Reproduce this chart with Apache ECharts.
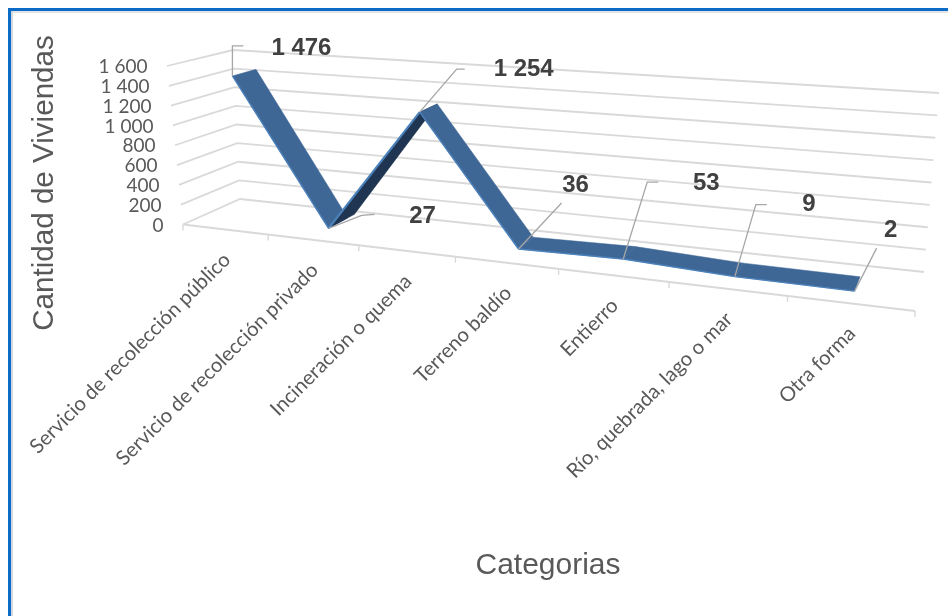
<!DOCTYPE html>
<html>
<head>
<meta charset="utf-8">
<style>html,body{margin:0;padding:0;background:#fff}#c{width:948px;height:616px}</style>
<script src="https://cdn.jsdelivr.net/npm/echarts@6/dist/echarts.min.js"></script>
</head>
<body>
<div id="c"></div>
<script>
var categories = ['Servicio de recolección público','Servicio de recolección privado','Incineración o quema','Terreno baldío','Entierro','Río, quebrada, lago o mar','Otra forma'];
var values = [1476, 27, 1254, 36, 53, 9, 2];
var valueLabels = ['1 476','27','1 254','36','53','9','2'];
var yTicks = [0,200,400,600,800,1000,1200,1400,1600];
var yTickLabels = ['0','200','400','600','800','1 000','1 200','1 400','1 600'];

// Projection of the flat grid (t along categories, v up) plus a depth d on to the tilted 3-D box
function homography(p0,p1,p2,p3){
  var dx1=p1[0]-p2[0],dy1=p1[1]-p2[1],dx2=p3[0]-p2[0],dy2=p3[1]-p2[1];
  var sx=p0[0]-p1[0]+p2[0]-p3[0],sy=p0[1]-p1[1]+p2[1]-p3[1];
  var den=dx1*dy2-dx2*dy1;
  var g=(sx*dy2-dx2*sy)/den,h=(dx1*sy-sx*dy1)/den;
  var a=p1[0]-p0[0]+g*p1[0],b=p3[0]-p0[0]+h*p3[0],d=p1[1]-p0[1]+g*p1[1],e=p3[1]-p0[1]+h*p3[1];
  return function(t,u){var w=1+g*t+h*u;return [(p0[0]+a*t+b*u)/w,(p0[1]+d*t+e*u)/w];};
}
var floorH = homography([183,224.5],[915,311],[924,272],[240,199]);
function box(t,d,v){
  var f=floorH(t,d), s=(f[0]-183)/732, sb=(s-0.078)/0.934;
  var dxF=-16+s*46, hF=158.5+s*31.5, dxB=-7+sb*22, hB=149+sb*30;
  var dx=dxF+d*(dxB-dxF), h=hF+d*(hB-hF);
  return [f[0]+v*dx, f[1]-v*h];
}
var D0=0.3, D1=0.68, D_UNDER=0.82;

function normalise(params,api,i,val){
  var cs=params.coordSys, c=api.coord([i,val]);
  return [(c[0]-cs.x)/cs.width,(cs.y+cs.height-c[1])/cs.height];
}
var AXIS='#D9D9D9', GRAY='#A6A6A6', TXT='#595959', LBL='#404040';

function renderFrame(params,api){
  var cs=params.coordSys, ch=[];
  yTicks.forEach(function(tv,k){
    var v=(cs.y+cs.height-api.coord([0,tv])[1])/cs.height;
    var a=box(0,0,v),b=box(0,1,v),c=box(1,1,v);
    ch.push({type:'polyline',silent:true,shape:{points:[a,b,c]},style:{fill:null,stroke:AXIS,lineWidth:1.8}});
    ch.push({type:'text',silent:true,x:a[0]-19.5,y:a[1]+1,style:{text:yTickLabels[k],align:'right',verticalAlign:'middle',fontFamily:'Lato',fontSize:19,fill:TXT}});
  });
  var e0=box(0,0,0),e1=box(1,0,0);
  ch.push({type:'line',silent:true,shape:{x1:e0[0],y1:e0[1],x2:e1[0],y2:e1[1]},style:{stroke:AXIS,lineWidth:1.8}});
  for(var k=0;k<=values.length;k++){
    var p=box(k/values.length,0,0);
    ch.push({type:'line',silent:true,shape:{x1:p[0],y1:p[1],x2:p[0],y2:p[1]+6},style:{stroke:AXIS,lineWidth:1.4}});
  }
  categories.forEach(function(name,i){
    var n=normalise(params,api,i,0), p=box(n[0],0,0);
    ch.push({type:'text',silent:true,x:p[0]+2,y:p[1]+27,rotation:Math.PI/4,
      style:{text:name,align:'right',verticalAlign:'middle',fontFamily:'Lato',fontSize:20.3,fill:TXT}});
  });
  return {type:'group',children:ch};
}

function renderRibbon(params,api){
  var ch=[];
  for(var i=0;i<values.length-1;i++){
    var a=normalise(params,api,i,values[i]), b=normalise(params,api,i+1,values[i+1]);
    var rising=values[i+1]>values[i]*3;
    var af=box(a[0],D0,a[1]),ab=box(a[0],rising?D_UNDER:D1,a[1]),bf=box(b[0],D0,b[1]),bb=box(b[0],D1,b[1]);
    ch.push({type:'polygon',silent:true,shape:{points:[af,bf,bb,ab]},
      style:{fill:rising?'#1F3551':'#3F6796',stroke:rising?'#1F3551':'#3F6796',lineWidth:0.5}});
    ch.push({type:'line',silent:true,shape:{x1:af[0],y1:af[1],x2:bf[0],y2:bf[1]},
      style:{stroke:'#4C82BC',lineWidth:rising?2.2:1.4}});
  }
  return {type:'group',children:ch};
}

// leader offsets in screen pixels from each point's front edge: elbow(s), then label centre
var leaderOffsets=[[[0,-30],[11,-30]],[[33,-13],[46,-14]],[[37,-43],[45,-43]],[[43,-46]],[[24,-77],[35,-77]],[[21,-72],[32,-72]],[[22,-43]]];
var labelOffsets=[[69,-28],[94,-12],[104,-43],[57,-64],[83,-76],[74,-72],[36,-61]];

function renderLabels(params,api){
  var ch=[];
  values.forEach(function(val,i){
    var n=normalise(params,api,i,val), p=box(n[0],D0,n[1]);
    var pts=[p].concat(leaderOffsets[i].map(function(o){return [p[0]+o[0],p[1]+o[1]];}));
    ch.push({type:'polyline',silent:true,shape:{points:pts},style:{fill:null,stroke:GRAY,lineWidth:1.3}});
    ch.push({type:'text',silent:true,x:p[0]+labelOffsets[i][0],y:p[1]+labelOffsets[i][1],
      style:{text:valueLabels[i],align:'center',verticalAlign:'middle',fontFamily:'Liberation Sans',fontWeight:'bold',fontSize:24,fill:LBL}});
  });
  return {type:'group',children:ch};
}

var chart=echarts.init(document.getElementById('c'),null,{renderer:'canvas'});
chart.setOption({
  animation:false,
  backgroundColor:'#fff',
  grid:{left:100,right:100,top:100,bottom:100},
  xAxis:{type:'category',data:categories,show:false},
  yAxis:{type:'value',min:0,max:1600,interval:200,show:false},
  graphic:[
    {type:'rect',z:-1,shape:{x:11,y:11,width:937,height:2},style:{fill:'#E3E3E3'}},
    {type:'rect',z:-1,shape:{x:11,y:11,width:2,height:605},style:{fill:'#D3D8DE'}},
    {type:'rect',z:-1,shape:{x:8,y:8,width:940,height:3},style:{fill:'#0B6CC8'}},
    {type:'rect',z:-1,shape:{x:8,y:8,width:3,height:608},style:{fill:'#0B6CC8'}},
    {type:'text',x:45,y:183,rotation:Math.PI/2,style:{text:'Cantidad de Viviendas',align:'center',verticalAlign:'middle',fontFamily:'Liberation Sans',fontSize:29.6,fill:TXT}},
    {type:'text',x:548,y:566,style:{text:'Categorias',align:'center',verticalAlign:'middle',fontFamily:'Liberation Sans',fontSize:30,fill:TXT}}
  ],
  series:[
    {type:'custom',coordinateSystem:'cartesian2d',data:[[0,0]],renderItem:renderFrame,z:1,silent:true,clip:false},
    {type:'custom',coordinateSystem:'cartesian2d',data:[[0,0]],renderItem:renderRibbon,z:2,silent:true,clip:false},
    {type:'custom',coordinateSystem:'cartesian2d',data:[[0,0]],renderItem:renderLabels,z:3,silent:true,clip:false}
  ]
});
</script>
</body>
</html>
